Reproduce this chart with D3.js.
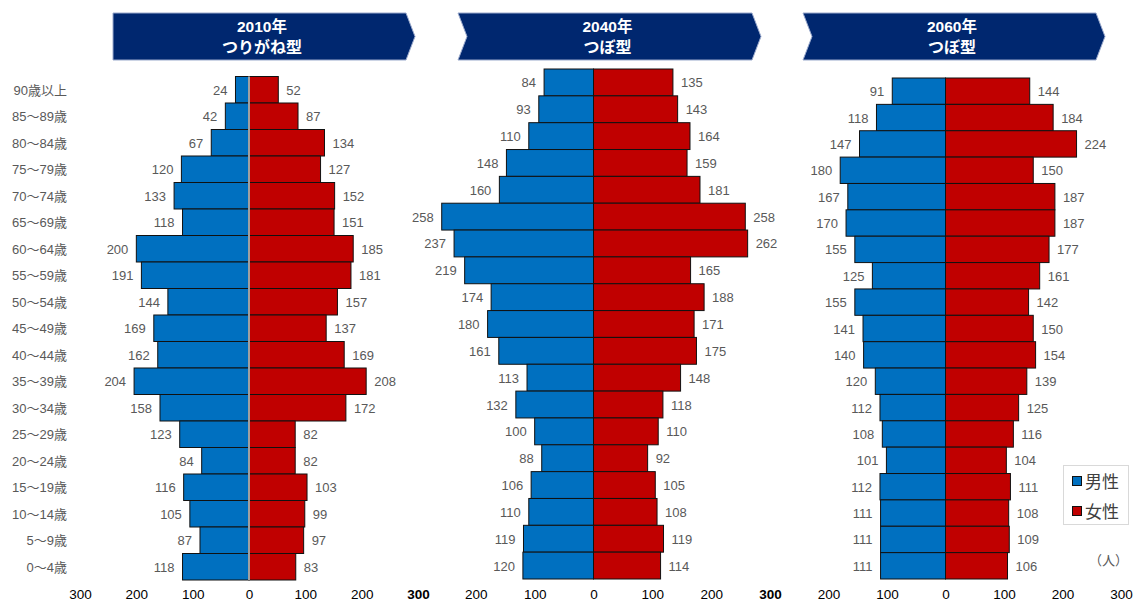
<!DOCTYPE html>
<html>
<head>
<meta charset="utf-8">
<script src="https://cdn.jsdelivr.net/npm/d3@7"></script>
<style>
  body { margin: 0; background: #fff; }
  svg text { font-family: "Liberation Sans", Arial, "Noto Sans CJK JP", sans-serif; }
</style>
</head>
<body>
<div id="chart"></div>
<script>
// age groups, top to bottom
const ages = ["90歳以上", "85～89歳", "80～84歳", "75～79歳", "70～74歳", "65～69歳", "60～64歳",
  "55～59歳", "50～54歳", "45～49歳", "40～44歳", "35～39歳", "30～34歳", "25～29歳",
  "20～24歳", "15～19歳", "10～14歳", "5～9歳", "0～4歳"];

const titles = [["2010年", "つりがね型"], ["2040年", "つぼ型"], ["2060年", "つぼ型"]];

const male2010 = [24, 42, 67, 120, 133, 118, 200, 191, 144, 169, 162, 204, 158, 123, 84, 116, 105, 87, 118];
const female2010 = [52, 87, 134, 127, 152, 151, 185, 181, 157, 137, 169, 208, 172, 82, 82, 103, 99, 97, 83];
const male2040 = [84, 93, 110, 148, 160, 258, 237, 219, 174, 180, 161, 113, 132, 100, 88, 106, 110, 119, 120];
const female2040 = [135, 143, 164, 159, 181, 258, 262, 165, 188, 171, 175, 148, 118, 110, 92, 105, 108, 119, 114];
const male2060 = [91, 118, 147, 180, 167, 170, 155, 125, 155, 141, 140, 120, 112, 108, 101, 112, 111, 111, 111];
const female2060 = [144, 184, 224, 150, 187, 187, 177, 161, 142, 150, 154, 139, 125, 116, 104, 111, 108, 109, 106];

const tickValues = [-300, -200, -100, 0, 100, 200, 300];
const legendItems = ["男性", "女性"];

const width = 1136, height = 602;
const blue = "#0070C0", red = "#C00000", navy = "#00276F";

const svg = d3.select("#chart").append("svg")
  .attr("width", width).attr("height", height);

// layout for each panel
const panels = [
  { male: male2010, female: female2010, x: [80, 418], y: [76.5, 580], head: [113, 406, 415], notch: false, grayAxis: true },
  { male: male2040, female: female2040, x: [417, 770], y: [69, 579], head: [458, 752, 761], notch: true, grayAxis: false },
  { male: male2060, female: female2060, x: [770, 1121], y: [78, 579], head: [803, 1096, 1105], notch: true, grayAxis: false }
];

panels.forEach((p, i) => {
  const x = d3.scaleLinear().domain([-300, 300]).range(p.x);
  const y = d3.scaleBand().domain(ages).range(p.y).padding(0);
  const g = svg.append("g");

  // header arrow
  const [hl, hr, hp] = p.head;
  const top = 13, bot = 60, mid = (top + bot) / 2;
  const pts = [[hl, top], [hr, top], [hp, mid], [hr, bot], [hl, bot]];
  if (p.notch) pts.push([hl + 9, mid]);
  g.append("polygon")
    .attr("points", pts.map(d => d.join(",")).join(" "))
    .attr("fill", navy)
    .attr("stroke", "#9aa9cc").attr("stroke-width", 1);
  const cx = (hl + hp) / 2 - 2;
  g.append("text").attr("x", cx).attr("y", 32).attr("text-anchor", "middle")
    .attr("fill", "#fff").attr("font-weight", "bold").attr("font-size", 15.5)
    .text(titles[i][0]);
  g.append("text").attr("x", cx).attr("y", 53).attr("text-anchor", "middle")
    .attr("fill", "#fff").attr("font-weight", "bold").attr("font-size", 16)
    .attr("font-family", "'Noto Sans CJK JP', sans-serif")
    .text(titles[i][1]);

  // male bars
  g.selectAll(".m").data(p.male).enter().append("rect")
    .attr("x", d => x(-d)).attr("y", (d, j) => y(ages[j]))
    .attr("width", d => x(0) - x(-d)).attr("height", y.bandwidth())
    .attr("fill", blue).attr("stroke", "#111").attr("stroke-width", 1);
  // female bars
  g.selectAll(".f").data(p.female).enter().append("rect")
    .attr("x", x(0)).attr("y", (d, j) => y(ages[j]))
    .attr("width", d => x(d) - x(0)).attr("height", y.bandwidth())
    .attr("fill", red).attr("stroke", "#111").attr("stroke-width", 1);

  if (p.grayAxis) {
    g.append("line").attr("x1", x(0)).attr("x2", x(0))
      .attr("y1", p.y[0]).attr("y2", p.y[1])
      .attr("stroke", "#a0a0a0").attr("stroke-width", 2);
  }

  // value labels
  g.selectAll(".ml").data(p.male).enter().append("text")
    .attr("x", d => x(-d) - 8).attr("y", (d, j) => y(ages[j]) + y.bandwidth() / 2 + 5)
    .attr("text-anchor", "end").attr("font-size", 13).attr("fill", "#595959")
    .text(d => d);
  g.selectAll(".fl").data(p.female).enter().append("text")
    .attr("x", d => x(d) + 8).attr("y", (d, j) => y(ages[j]) + y.bandwidth() / 2 + 5)
    .attr("text-anchor", "start").attr("font-size", 13).attr("fill", "#595959")
    .text(d => d);

  // x axis
  const ticks = i === 0 ? tickValues : tickValues.slice(1);
  const axis = g.append("g").attr("transform", "translate(0,586)")
    .call(d3.axisBottom(x).tickValues(ticks).tickSize(0).tickFormat(d => Math.abs(d)));
  axis.select(".domain").remove();
  axis.selectAll("text")
    .attr("font-size", 13.5).attr("fill", "#000")
    .attr("font-family", "'Liberation Sans', Arial, sans-serif")
    .attr("font-weight", d => (d === 300 && i < 2) ? "bold" : "normal");

  // age labels on the first panel
  if (i === 0) {
    svg.selectAll(".age").data(ages).enter().append("text")
      .attr("x", 67).attr("y", d => y(d) + y.bandwidth() / 2 + 5)
      .attr("text-anchor", "end").attr("font-size", 13).attr("fill", "#595959")
      .text(d => d);
  }
});

// legend
const lg = svg.append("g");
lg.append("rect").attr("x", 1063.5).attr("y", 465.5).attr("width", 65).attr("height", 59)
  .attr("fill", "#fff").attr("stroke", "#d9d9d9");
legendItems.forEach((t, k) => {
  lg.append("rect").attr("x", 1072.5).attr("y", 476.5 + k * 30).attr("width", 9).attr("height", 9)
    .attr("fill", k === 0 ? blue : red).attr("stroke", "#111");
  lg.append("text").attr("x", 1085).attr("y", 488 + k * 30)
    .attr("font-size", 17).attr("fill", "#404040")
    .attr("font-family", "'Noto Sans CJK JP', sans-serif")
    .text(t);
});
svg.append("text").attr("x", 1128).attr("y", 565).attr("text-anchor", "end")
  .attr("font-size", 13).attr("fill", "#595959")
  .attr("font-family", "'Noto Sans CJK JP', sans-serif")
  .text("（人）");
</script>
</body>
</html>
